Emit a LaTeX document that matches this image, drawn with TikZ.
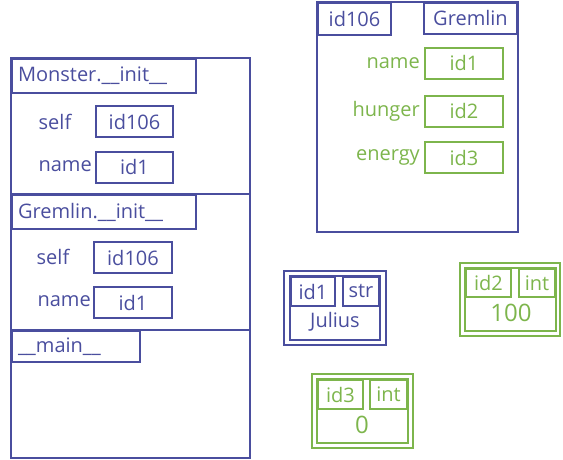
\documentclass[tikz,border=0pt]{standalone}
\usepackage{fontspec}
\setmainfont{Open Sans}
\definecolor{ink}{HTML}{4A4E9E}
\definecolor{leaf}{HTML}{7DB54C}
\begin{document}
\begin{tikzpicture}[x=1pt,y=-1pt,
  every node/.style={inner sep=0pt, font=\fontsize{20}{22}\selectfont},
  bx/.style={draw, line width=2pt, rectangle, anchor=center},
  bline/.style={draw=ink, line width=2pt},
  gline/.style={draw=leaf, line width=2pt},
  btxt/.style={text=ink},
  gtxt/.style={text=leaf}]
\useasboundingbox (0,0) rectangle (563,460);
% ---- stack frames ----
\draw[bline] (11,58) rectangle (250,458);
\draw[bline] (11,194) -- (250,194);
\draw[bline] (11,330) -- (250,330);
\node[bx, draw=ink, btxt, minimum width=184, minimum height=34, anchor=north west, text width=172, align=left] (mlab) at (11,58) {Monster.\_\_init\_\_};
\node[btxt] (mself) at (55,122) {self};
\node[bx, draw=ink, btxt, minimum width=77, minimum height=31] (mselfv) at (134.5,121.5) {id106};
\node[btxt, anchor=east] (mname) at (92,166) {name};
\node[bx, draw=ink, btxt, minimum width=77, minimum height=31] (mnamev) at (134.5,167.5) {id1};
\node[bx, draw=ink, btxt, minimum width=184, minimum height=34, anchor=north west, text width=172, align=left] (glab) at (11,194) {Gremlin.\_\_init\_\_};
\node[btxt] (gself) at (53,257) {self};
\node[bx, draw=ink, btxt, minimum width=78, minimum height=31] (gselfv) at (133,257.5) {id106};
\node[btxt, anchor=east] (gname) at (91,301) {name};
\node[bx, draw=ink, btxt, minimum width=78, minimum height=31] (gnamev) at (133,302.5) {id1};
\node[bx, draw=ink, btxt, minimum width=128, minimum height=31, anchor=north west, text width=116, align=left] (mainlab) at (11,330) {\_\_main\_\_};
% ---- object id106 ----
\draw[bline] (317,2) rectangle (518,232);
\node[bx, draw=ink, btxt, minimum width=73, minimum height=32, anchor=north west] (oid) at (317,2) {id106};
\node[bx, draw=ink, btxt, minimum width=93, minimum height=31, anchor=north east] (otype) at (518,2) {Gremlin};
\node[gtxt, anchor=east] (aname) at (420,63) {name};
\node[bx, draw=leaf, gtxt, minimum width=78, minimum height=31] (anamev) at (464,63.5) {id1};
\node[gtxt, anchor=east] (ahung) at (420,111) {hunger};
\node[bx, draw=leaf, gtxt, minimum width=78, minimum height=31] (ahungv) at (464,111.5) {id2};
\node[gtxt, anchor=east] (aener) at (420,157) {energy};
\node[bx, draw=leaf, gtxt, minimum width=78, minimum height=31] (aenerv) at (464,157.5) {id3};
% ---- object id1 ----
\draw[bline] (284,271) rectangle (386,345);
\draw[bline] (290,276) rectangle (380,340);
\node[bx, draw=ink, btxt, minimum width=44, minimum height=29, anchor=north west] (s1id) at (290,276) {id1};
\node[bx, draw=ink, btxt, minimum width=36, minimum height=29, anchor=north east] (s1t) at (380,276) {str};
\node[btxt] (s1v) at (335,322) {Julius};
% ---- object id2 ----
\draw[gline] (460,263) rectangle (560,336);
\draw[gline] (465,268) rectangle (556,331);
\node[bx, draw=leaf, gtxt, minimum width=45, minimum height=28, anchor=north west] (i2id) at (465,268) {id2};
\node[bx, draw=leaf, gtxt, minimum width=36, minimum height=28, anchor=north east] (i2t) at (556,268) {int};
\node[gtxt, font=\fontsize{24}{26}\selectfont] (i2v) at (511,313) {100};
% ---- object id3 ----
\draw[gline] (312,374) rectangle (413,448);
\draw[gline] (317,379) rectangle (408,443);
\node[bx, draw=leaf, gtxt, minimum width=45, minimum height=29, anchor=north west] (i3id) at (317,379) {id3};
\node[bx, draw=leaf, gtxt, minimum width=37, minimum height=29, anchor=north east] (i3t) at (408,379) {int};
\node[gtxt, font=\fontsize{24}{26}\selectfont] (i3v) at (362,425) {0};
\end{tikzpicture}
\end{document}
